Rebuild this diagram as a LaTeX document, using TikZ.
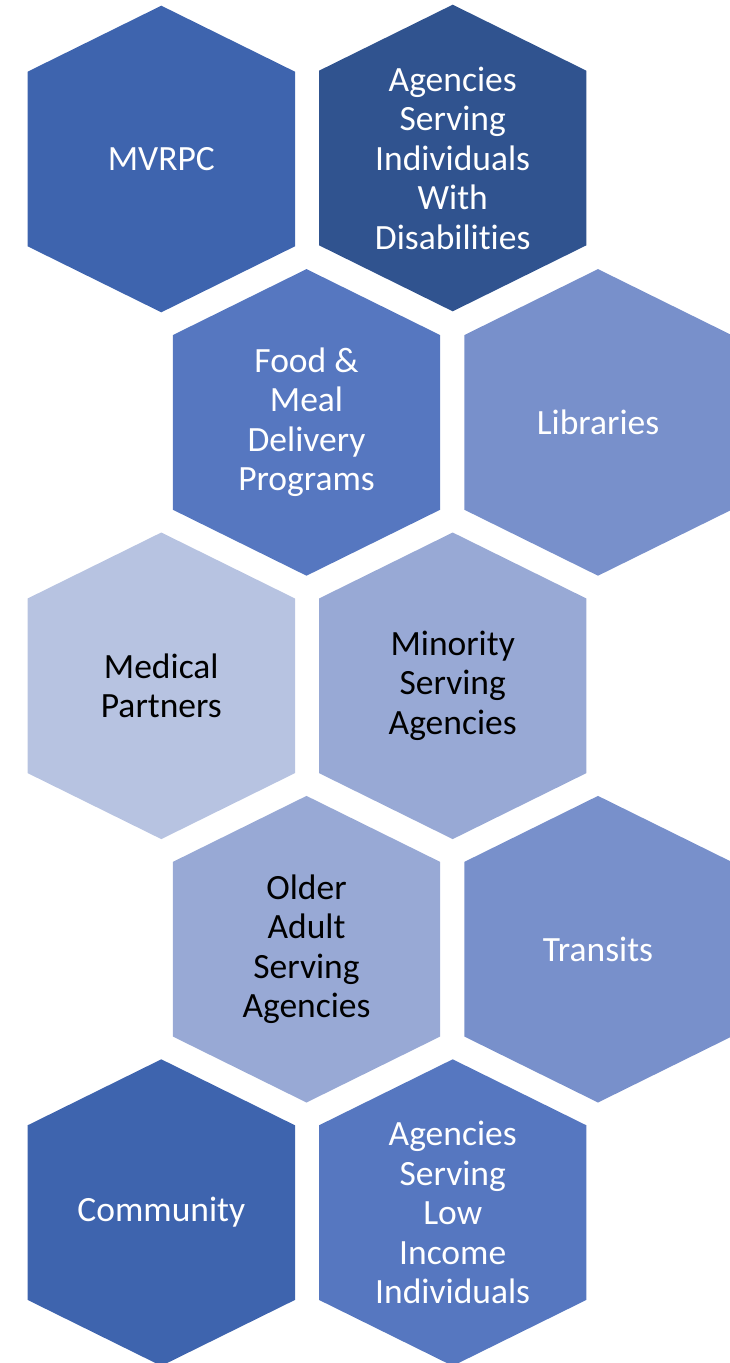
\documentclass[tikz,border=0pt]{standalone}
\usepackage{fontspec}
\setmainfont[Ligatures={NoCommon}]{Carlito}
\definecolor{cA}{HTML}{3E64AE}
\definecolor{cB}{HTML}{30538F}
\definecolor{cC}{HTML}{5677C0}
\definecolor{cD}{HTML}{7890CB}
\definecolor{cE}{HTML}{B7C3E1}
\definecolor{cF}{HTML}{98A9D5}
\newcommand{\hexcell}[6]{%
  \fill[#3] (#1,#2) ++(0,-153.3) -- ++(133.7,66) -- ++(0,174.6) -- ++(-133.7,66) -- ++(-133.7,-66) -- ++(0,-174.6) -- cycle;
  \node[lbl,text=#4] (#5) at (#1,#2) {#6};}
\begin{document}
\begin{tikzpicture}[x=1pt,y=-1pt,
  lbl/.style={align=center,inner sep=0pt,font=\fontsize{35.5}{39.5}\selectfont}]
\useasboundingbox (0,0) rectangle (730,1363);
\begin{scope}
\clip (0,0) rectangle (730,1363);
\hexcell{161.3}{159}{cA}{white}{mvrpc}{MVRPC}
\hexcell{452.7}{158}{cB}{white}{disab}{Agencies\\Serving\\Individuals\\With\\Disabilities}
\hexcell{306.5}{422.4}{cC}{white}{food}{Food \&\\Meal\\Delivery\\Programs}
\hexcell{598}{422.4}{cD}{white}{lib}{Libraries}
\hexcell{161.3}{685.8}{cE}{black}{med}{Medical\\Partners}
\hexcell{452.7}{685.8}{cF}{black}{minor}{Minority\\Serving\\Agencies}
\hexcell{306.5}{949.2}{cF}{black}{older}{Older\\Adult\\Serving\\Agencies}
\hexcell{598}{949.2}{cD}{white}{transit}{Transits}
\hexcell{161.3}{1212.6}{cA}{white}{comm}{Community}
\hexcell{452.7}{1212.6}{cC}{white}{lowinc}{Agencies\\Serving\\Low\\Income\\Individuals}
\end{scope}
\end{tikzpicture}
\end{document}
